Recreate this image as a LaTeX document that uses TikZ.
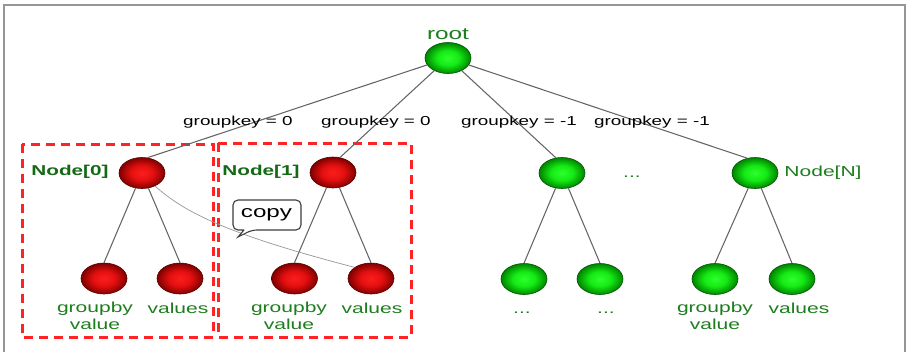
\documentclass[tikz,border=0pt]{standalone}
\usepackage{fontspec}
\newfontfamily\labelfont[FakeStretch=1.45]{Liberation Sans}
\usetikzlibrary{shapes.geometric}

\definecolor{framegray}{RGB}{150,150,150}
\definecolor{linkgray}{RGB}{100,100,100}
\definecolor{curvegray}{RGB}{150,150,150}
\definecolor{lblgreen}{RGB}{30,125,30}
\definecolor{boldgreen}{RGB}{20,105,20}
\definecolor{boxred}{RGB}{255,35,35}
\definecolor{redrim}{RGB}{90,0,0}
\definecolor{greenrim}{RGB}{0,85,0}
\definecolor{calloutrim}{RGB}{60,60,60}

\pgfdeclareradialshading{redglobe}{\pgfpoint{0bp}{0bp}}{%
  rgb(0bp)=(0.98,0.12,0.12); rgb(12bp)=(0.90,0.06,0.06);
  rgb(25bp)=(0.50,0,0); rgb(50bp)=(0.50,0,0)}
\pgfdeclareradialshading{greenglobe}{\pgfpoint{0bp}{0bp}}{%
  rgb(0bp)=(0.18,1,0.18); rgb(12bp)=(0.08,0.92,0.08);
  rgb(25bp)=(0,0.52,0); rgb(50bp)=(0,0.52,0)}

\tikzset{
  globe/.style={ellipse, minimum width=46pt, minimum height=31pt, inner sep=0pt},
  redglobe/.style={globe, shading=redglobe, draw=redrim, line width=0.6pt},
  greenglobe/.style={globe, shading=greenglobe, draw=greenrim, line width=0.6pt},
  link/.style={draw=linkgray, line width=1.05pt},
  keylabel/.style={font=\labelfont\fontsize{13}{15}\selectfont, text=black, inner sep=0pt},
  leaflabel/.style={font=\labelfont\fontsize{14.5}{17}\selectfont, text=lblgreen, align=center, inner sep=0pt},
  namelabel/.style={font=\labelfont\bfseries\fontsize{14.3}{17}\selectfont, text=boldgreen, inner sep=0pt},
  groupbox/.style={draw=boxred, line width=3pt, dash pattern=on 9pt off 6pt},
}

\begin{document}
\begin{tikzpicture}[x=1pt, y=-1pt]
  \useasboundingbox (0,0) rectangle (908,351);
  \fill[white] (0,0) rectangle (908,351);
  \clip (0,0) rectangle (908,351);

  % outer frame
  \draw[framegray, line width=1.8pt] (4,5) rectangle (905,362);

  % dashed group boxes
  \draw[groupbox] (22,144) rectangle (213,337);
  \draw[groupbox] (218,143) rectangle (411,337);

  % tree nodes
  \node[greenglobe] (root) at (448,58) {};
  \node[redglobe]   (n0) at (142,173) {};
  \node[redglobe]   (n1) at (333,172.5) {};
  \node[greenglobe] (n2) at (562,173) {};
  \node[greenglobe] (nN) at (755,173) {};

  \node[redglobe]   (a) at (104,278.5) {};
  \node[redglobe]   (b) at (180,278.5) {};
  \node[redglobe]   (c) at (294.5,278.5) {};
  \node[redglobe]   (d) at (371,278.5) {};
  \node[greenglobe] (e) at (524,279) {};
  \node[greenglobe] (f) at (600,279) {};
  \node[greenglobe] (g) at (715,279) {};
  \node[greenglobe] (h) at (792,279) {};

  % connectors
  \draw[link] (root) -- (n0.70);
  \draw[link] (root) -- (n1.65);
  \draw[link] (root) -- (n2.112);
  \draw[link] (root) -- (nN.118);
  \draw[link] (n0) -- (a.north);
  \draw[link] (n0) -- (b.north);
  \draw[link] (n1) -- (c.north);
  \draw[link] (n1) -- (d.north);
  \draw[link] (n2) -- (e.north);
  \draw[link] (n2) -- (f.north);
  \draw[link] (nN) -- (g.north);
  \draw[link] (nN) -- (h.north);

  % copy relation
  \draw[curvegray, line width=0.7pt] (n0.-45) .. controls (185,213) and (230,235) .. (d.north west);

  % callout
  \draw[calloutrim, fill=white, line width=1.1pt, rounded corners=5pt]
    (244,230) -- (233,230) -- (233,200) -- (301,200) -- (301,230) -- (252,230)
    [sharp corners] -- (238,237) -- (244,230);
  \node[font=\labelfont\fontsize{16.7}{19}\selectfont, inner sep=0pt] (copy) at (266.5,215) {copy};

  % labels
  \node[font=\labelfont\fontsize{16.8}{19}\selectfont, text=lblgreen, inner sep=0pt] (rootlbl) at (448,34.5) {root};
  \node[keylabel] (k0) at (238,122) {groupkey = 0};
  \node[keylabel] (k1) at (376,122) {groupkey = 0};
  \node[keylabel] (k2) at (519,122) {groupkey = -1};
  \node[keylabel] (k3) at (652,122) {groupkey = -1};

  \node[namelabel] (l0) at (70,172) {Node[0]};
  \node[namelabel] (l1) at (261,172) {Node[1]};
  \node[leaflabel] (lN) at (823,173) {Node[N]};
  \node[leaflabel, anchor=base] (dots) at (632,177.5) {...};

  \node[leaflabel] (la) at (95,316) {groupby\\value};
  \node[leaflabel] (lb) at (178,308) {values};
  \node[leaflabel] (lc) at (289,316) {groupby\\value};
  \node[leaflabel] (ld) at (372,308) {values};
  \node[leaflabel, anchor=base] (le) at (522,313) {...};
  \node[leaflabel, anchor=base] (lf) at (606,313) {...};
  \node[leaflabel] (lg) at (715,316) {groupby\\value};
  \node[leaflabel] (lh) at (799,308) {values};
\end{tikzpicture}
\end{document}
